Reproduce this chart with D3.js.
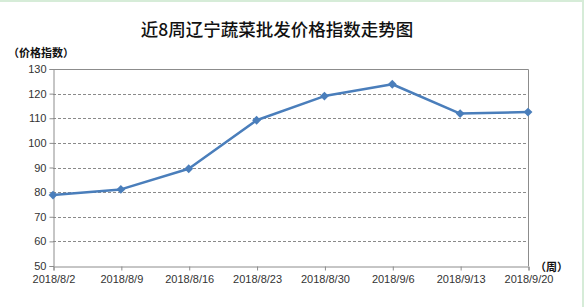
<!DOCTYPE html>
<html>
<head>
<meta charset="utf-8">
<script src="https://cdn.jsdelivr.net/npm/d3@7"></script>
<style>
  html, body { margin: 0; padding: 0; background: #fff; }
  svg { display: block; }
</style>
</head>
<body>
<svg id="chart" width="584" height="307"></svg>
<script>
// data
const weeks = ['2018/8/2', '2018/8/9', '2018/8/16', '2018/8/23', '2018/8/30', '2018/9/6', '2018/9/13', '2018/9/20']
const priceIndex = [78.8, 81.1, 89.5, 109.2, 119.0, 123.8, 111.9, 112.5]
const yTicks = [50, 60, 70, 80, 90, 100, 110, 120, 130]

const width = 584
const height = 307
const margin = { top: 69, right: 56, bottom: 41, left: 53 }
const chartWidth = width - margin.left - margin.right
const chartHeight = height - margin.top - margin.bottom

const font = '"Liberation Sans", "Noto Sans CJK SC", sans-serif'
const lineColor = '#4a7ebb'
const axisColor = '#8c8c8c'

const svg = d3.select('#chart')

// background + thin green frame
svg.append('rect').attr('width', width).attr('height', height).attr('fill', '#fff')
svg.append('rect').attr('x', 0).attr('y', 0).attr('width', width).attr('height', 2).attr('fill', '#d6ecd8')
svg.append('rect').attr('x', 582).attr('y', 0).attr('width', 2).attr('height', height).attr('fill', '#d6ecd8')

// scales
const x = d3.scalePoint().domain(weeks).range([0, chartWidth])
const y = d3.scaleLinear().domain([50, 130]).range([chartHeight, 0])

const vizGroup = svg.append('g')
  .attr('id', 'viz')
  .attr('transform', `translate(${margin.left},${margin.top})`)

// dashed grid
vizGroup.append('g')
  .attr('id', 'grid')
  .selectAll('line')
  .data(yTicks.filter((d) => d > 50 && d < 130))
  .join('line')
  .attr('x1', 0)
  .attr('x2', chartWidth)
  .attr('y1', (d) => Math.round(y(d)) + 0.5)
  .attr('y2', (d) => Math.round(y(d)) + 0.5)
  .attr('stroke', '#8a8a8a')
  .attr('stroke-dasharray', '3,2')

// top and right border
vizGroup.append('path')
  .attr('d', `M0.5,0.5H${chartWidth + 0.5}V${chartHeight}`)
  .attr('fill', 'none')
  .attr('stroke', axisColor)

// y axis
const yAxis = vizGroup.append('g')
  .attr('transform', 'translate(0.5,0)')
  .call(d3.axisLeft(y).tickValues(yTicks).tickSize(4).tickPadding(3))
yAxis.select('.domain').attr('stroke', axisColor)
yAxis.selectAll('.tick line').attr('stroke', axisColor)
yAxis.selectAll('text')
  .attr('fill', '#333')
  .style('font-family', font)
  .style('font-size', '11px')

// x axis
const xAxis = vizGroup.append('g')
  .attr('transform', `translate(0.5,${chartHeight + 0.5})`)
  .call(d3.axisBottom(x).tickSize(4).tickPadding(5))
xAxis.select('.domain').attr('stroke', axisColor)
xAxis.selectAll('.tick line').attr('stroke', axisColor)
xAxis.selectAll('text')
  .attr('fill', '#333')
  .style('font-family', font)
  .style('font-size', '11px')

// line
const line = d3.line()
  .x((d, i) => x(weeks[i]))
  .y((d) => y(d))

vizGroup.append('path')
  .datum(priceIndex)
  .attr('d', line)
  .attr('fill', 'none')
  .attr('stroke', lineColor)
  .attr('stroke-width', 2.5)
  .attr('stroke-linejoin', 'round')

// diamond markers
vizGroup.append('g')
  .attr('id', 'markers')
  .selectAll('path')
  .data(priceIndex)
  .join('path')
  .attr('d', d3.symbol(d3.symbolDiamond2, 50))
  .attr('transform', (d, i) => `translate(${x(weeks[i])},${y(d)})`)
  .attr('fill', lineColor)

// title
svg.append('text')
  .attr('x', 277)
  .attr('y', 36)
  .attr('text-anchor', 'middle')
  .style('font-family', '"Noto Sans CJK SC", sans-serif')
  .style('font-size', '17.5px')
  .style('font-weight', 500)
  .attr('fill', '#111')
  .text('近8周辽宁蔬菜批发价格指数走势图')

// axis titles
svg.append('text')
  .attr('x', 8)
  .attr('y', 57)
  .style('font-family', '"Noto Sans CJK SC", sans-serif')
  .style('font-size', '11px')
  .style('font-weight', 700)
  .attr('fill', '#111')
  .text('（价格指数）')

svg.append('text')
  .attr('x', 535)
  .attr('y', 271)
  .style('font-family', '"Noto Sans CJK SC", sans-serif')
  .style('font-size', '11px')
  .style('font-weight', 700)
  .attr('fill', '#111')
  .text('（周）')
</script>
</body>
</html>
